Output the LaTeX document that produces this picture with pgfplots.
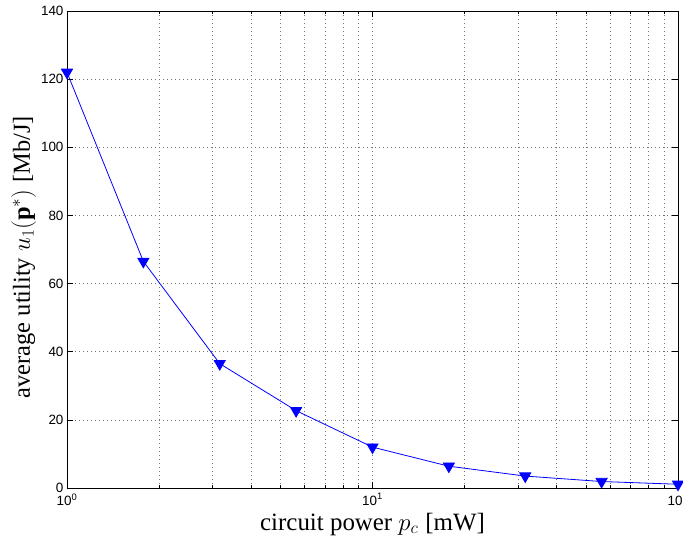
\documentclass[border=0pt]{standalone}
\usepackage{pgfplots}
\pgfplotsset{compat=1.18}
\usepackage{fontspec}
\setmainfont{Liberation Serif}
\setsansfont{Liberation Sans}
\begin{document}
\begin{tikzpicture}
\begin{axis}[
  xmode=log, xmin=1, xmax=100, ymin=0, ymax=140,
  scale only axis, width=611bp, height=477bp,
  ytick={0,20,...,140},
  xtick={1,10,100},
  xticklabels={10\textsuperscript{0},10\textsuperscript{1},10\textsuperscript{2}},
  /pgf/number format/assume math mode=true,
  grid=both,
  major grid style={black!55, line width=0.6bp, dash pattern=on 0.7bp off 3.3bp},
  minor grid style={black!55, line width=0.6bp, dash pattern=on 0.7bp off 3.3bp},
  tick align=inside,
  major tick length=6bp, minor tick length=3.5bp,
  tick style={black, line width=0.6bp},
  axis line style={black, line width=0.9bp},
  tick label style={font=\sffamily\fontsize{13.5}{14}\selectfont},
  xticklabel style={yshift=-2bp},
  label style={font=\fontsize{25}{26}\selectfont},
  xlabel={circuit power $p_c$\;[mW]},
  ylabel={average utility $u_1(\mathbf{p}^*)$\;[Mb/J]},
  xlabel style={at={(axis description cs:0.5,0)}, anchor=base, yshift=-42bp},
  ylabel style={at={(axis description cs:-0.0606,0.484)}, anchor=base, font=\fontsize{24.5}{26}\selectfont},
]
\addplot[blue, line width=0.8bp, mark=triangle*, mark size=6.4bp, mark options={rotate=180, fill=blue}]
coordinates {
(1,122)
(1.7783,66.5)
(3.1623,36.5)
(5.6234,22.7)
(10,12)
(17.783,6.4)
(31.623,3.5)
(56.234,1.9)
(100,1.1)
};
\end{axis}
\pgfresetboundingbox
\path ([shift={(-67bp,-49bp)}]current axis.south west) rectangle ([shift={(5bp,11bp)}]current axis.north east);
\end{tikzpicture}
\end{document}
